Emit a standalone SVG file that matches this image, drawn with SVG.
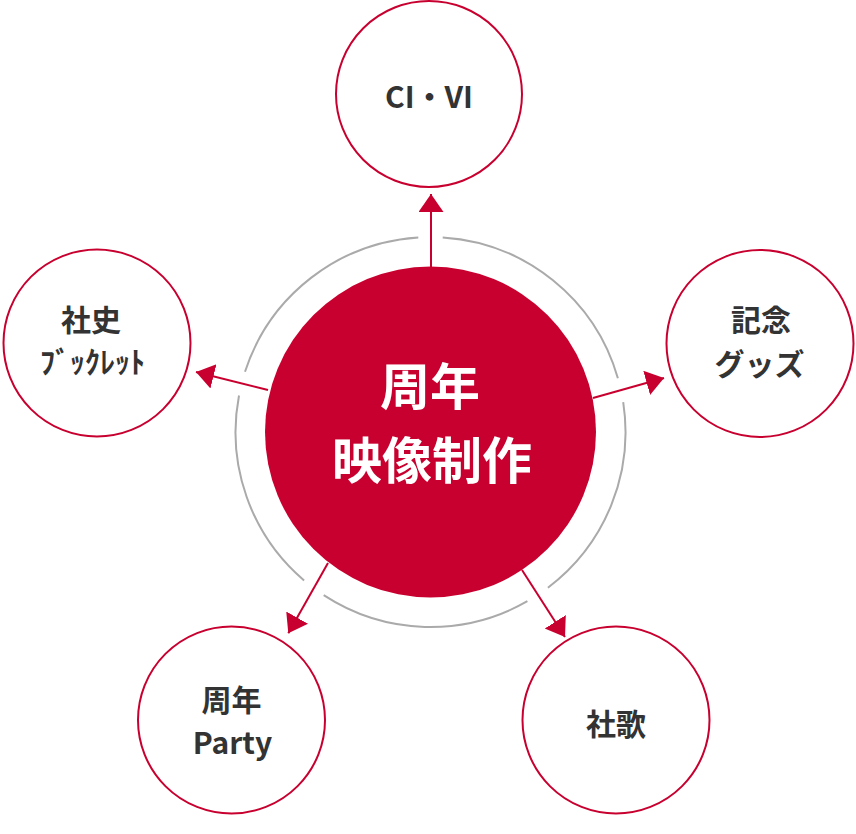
<svg xmlns="http://www.w3.org/2000/svg" width="856" height="834" viewBox="0 0 856 834">
  <style>
    .node { fill: #ffffff; stroke: #c8002f; stroke-width: 2; }
    .lbl { font-family: "Noto Sans CJK JP", "Noto Sans", sans-serif; font-weight: 700; font-size: 30px; fill: #333333; text-anchor: middle; }
    .hub { fill: #c8002f; }
    .hubtxt { font-family: "Noto Sans CJK JP", "Noto Sans", sans-serif; font-weight: 700; font-size: 50px; fill: #ffffff; text-anchor: middle; }
    .ring { fill: none; stroke: #aaaaaa; stroke-width: 2; }
    .conn { stroke: #c8002f; stroke-width: 2; fill: none; }
  </style>
  <defs>
    <marker id="arrow" markerUnits="userSpaceOnUse" markerWidth="20" markerHeight="26" refX="18" refY="12.5" orient="auto" viewBox="0 0 20 26">
      <path d="M0,0 L18,12.5 L0,25 z" fill="#c8002f"/>
    </marker>
  </defs>

  <g id="ring">
    <path class="ring" d="M527.4,601.2 A195,195 0 0 1 323.7,595.2"/>
    <path class="ring" d="M304.1,580.5 A195,195 0 0 1 239.0,395.5"/>
    <path class="ring" d="M245.0,371.7 A195,195 0 0 1 418.3,237.4"/>
    <path class="ring" d="M442.7,237.4 A195,195 0 0 1 617.9,378.3"/>
    <path class="ring" d="M623.2,402.2 A195,195 0 0 1 547.9,587.7"/>
  </g>

  <g id="connectors">
    <line class="conn" x1="431" y1="268" x2="431" y2="194" marker-end="url(#arrow)"/>
    <line class="conn" x1="268" y1="390" x2="196" y2="372" marker-end="url(#arrow)"/>
    <line class="conn" x1="593" y1="398" x2="664" y2="378" marker-end="url(#arrow)"/>
    <line class="conn" x1="328" y1="563" x2="288.3" y2="633.3" marker-end="url(#arrow)"/>
    <line class="conn" x1="522" y1="570" x2="565" y2="637" marker-end="url(#arrow)"/>
  </g>

  <g id="hub">
    <circle class="hub" cx="430.5" cy="432" r="165.5"/>
    <text class="hubtxt" x="430" y="405">周年</text>
    <text class="hubtxt" x="432" y="479">映像制作</text>
  </g>

  <g id="node-civi">
    <circle class="node" cx="429" cy="94" r="93"/>
    <text class="lbl" x="429" y="108">CI・VI</text>
  </g>

  <g id="node-shashi">
    <circle class="node" cx="97" cy="343" r="93.5"/>
    <text class="lbl" x="91" y="331">社史</text>
    <text class="lbl" x="92.5" y="373">ﾌﾞｯｸﾚｯﾄ</text>
  </g>

  <g id="node-kinen">
    <circle class="node" cx="760" cy="343.5" r="93.5"/>
    <text class="lbl" x="761" y="331">記念</text>
    <text class="lbl" x="759.5" y="375">グッズ</text>
  </g>

  <g id="node-party">
    <circle class="node" cx="231.5" cy="720" r="93.5"/>
    <text class="lbl" x="231.5" y="711">周年</text>
    <text class="lbl" x="232.5" y="754">Party</text>
  </g>

  <g id="node-shaka">
    <circle class="node" cx="616" cy="720" r="93.5"/>
    <text class="lbl" x="616" y="735">社歌</text>
  </g>
</svg>
